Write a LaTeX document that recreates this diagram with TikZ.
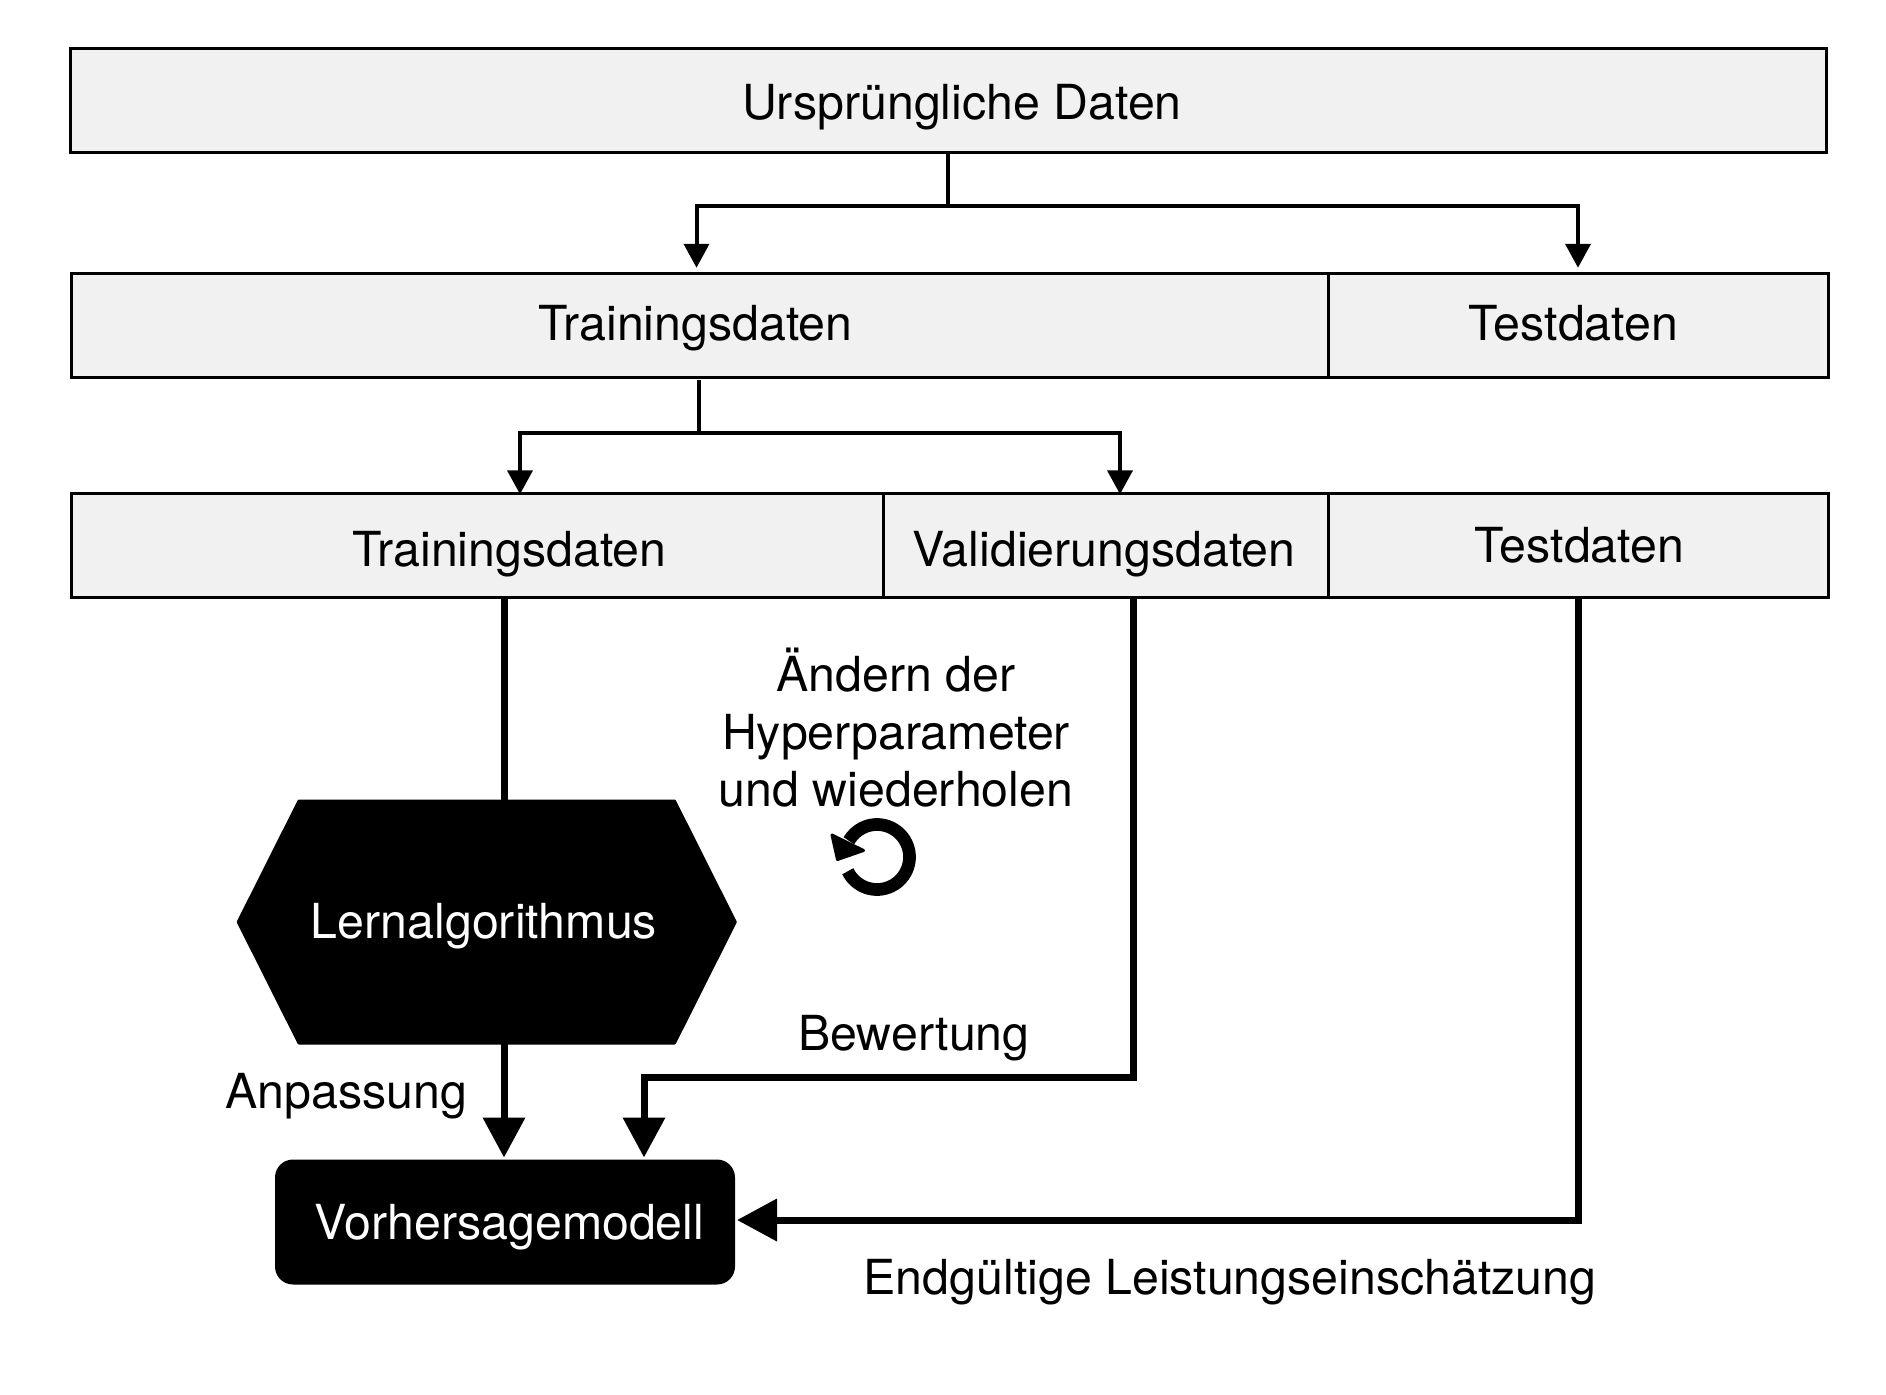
\documentclass[tikz,border=0pt]{standalone}
\usepackage{fontspec}
\setmainfont{TeX Gyre Heros}
\usetikzlibrary{arrows.meta,shapes.symbols,calc}
\definecolor{boxgray}{HTML}{F1F1F1}
\tikzset{
  databox/.style={draw=black,fill=boxgray,line width=3pt,outer sep=0pt,inner sep=0pt,line join=miter},
  lbl/.style={font=\fontsize{48.3}{57}\selectfont,anchor=base,inner sep=0pt,outer sep=0pt,text=black},
  lblw/.style={lbl,text=white},
  hexbox/.style={shape=signal,signal to=west and east,signal pointer angle=126.7,fill=black,draw=black,line width=3pt,line join=round,inner sep=0pt,outer sep=0pt,minimum width=497pt,minimum height=242pt},
  modelbox/.style={fill=black,rounded corners=18pt,inner sep=0pt,outer sep=0pt,minimum width=460pt,minimum height=125pt},
  thinline/.style={line width=4pt,draw=black,line join=miter},
  thinarrow/.style={thinline,-{Triangle[length=24pt,width=25pt]}},
  thickline/.style={line width=7pt,draw=black,line join=miter},
  thickarrow/.style={thickline,-{Triangle[length=40pt,width=41pt]}}
}
\begin{document}
\begin{tikzpicture}[x=1pt,y=-1pt]
\useasboundingbox (0,0) rectangle (1886,1394);
% data rows
\node[databox,minimum width=1756pt,minimum height=103pt] (orig) at (948,100.5) {};
\node[databox,minimum width=1256.5pt,minimum height=103.5pt] (trainA) at (700,325.5) {};
\node[databox,minimum width=500pt,minimum height=103.5pt] (testA) at (1578,325.5) {};
\node[databox,minimum width=811.5pt,minimum height=103.5pt] (trainB) at (477.5,545.5) {};
\node[databox,minimum width=445pt,minimum height=103.5pt] (validB) at (1105.5,545.5) {};
\node[databox,minimum width=500pt,minimum height=103.5pt] (testB) at (1578,545.5) {};
% black shapes
\node[hexbox] (hex) at (486.75,922) {};
\node[modelbox] (model) at (505,1222) {};
% labels
\node[lbl] (tOrig) at (962,120) {Ursprüngliche Daten};
\node[lbl] (tTrainA) at (695.5,340) {Trainingsdaten};
\node[lbl] (tTestA) at (1573.5,340) {Testdaten};
\node[lbl] (tTrainB) at (509.5,566.5) {Trainingsdaten};
\node[lbl] (tValidB) at (1104,566.5) {Validierungsdaten};
\node[lbl] (tTestB) at (1579.5,562) {Testdaten};
\node[lbl] (tAend1) at (896,691.5) {Ändern der};
\node[lbl] (tAend2) at (896,749) {Hyperparameter};
\node[lbl] (tAend3) at (896,806.5) {und wiederholen};
\node[lblw] (tHex) at (484,938) {Lernalgorithmus};
\node[lblw] (tModel) at (509.5,1239) {Vorhersagemodell};
\node[lbl] (tAnp) at (346,1108) {Anpassung};
\node[lbl] (tBew) at (914,1050) {Bewertung};
\node[lbl] (tEnd) at (1230,1294) {Endgültige Leistungseinschätzung};
% split connectors
\coordinate (j1) at (orig.south |- 0,206);
\draw[thinline] (orig.south) -- (j1);
\draw[thinarrow] (j1) -| ([xshift=-3.5pt,yshift=6pt]trainA.north);
\draw[thinarrow] (j1) -| ([yshift=6pt]testA.north);
\coordinate (j2) at (698.5,433);
\draw[thinline] ([xshift=-1.5pt,yshift=-3pt]trainA.south) -- (j2);
\draw[thinarrow] (j2) -| ([xshift=42.5pt,yshift=-0.5pt]trainB.north);
\draw[thinarrow] (j2) -| ([xshift=14.5pt,yshift=-0.5pt]validB.north);
% flow connectors
\draw[thickline] ([xshift=26.5pt]trainB.south) -- ([xshift=17.25pt]hex.north);
\draw[thickarrow] ([xshift=17.25pt]hex.south) -- ([xshift=-1pt,yshift=2pt]model.north);
\coordinate (j3) at (644,1077);
\draw[thickarrow] ([xshift=27.5pt]validB.south) |- (j3) -- ([xshift=139pt,yshift=2pt]model.north);
\draw[thickarrow] (testB.south) |- ([xshift=2pt,yshift=2pt]model.east);
% repeat icon
\coordinate (rc) at (877,857);
\draw[line width=12.7pt,line cap=butt] ([shift={(154:32.5)}]rc) arc[start angle=154,end angle=-150,radius=32.5];
\fill[draw=black,line width=3pt,line join=round] (832,835) -- (837.5,859.5) -- (863.5,850.5) -- cycle;
\end{tikzpicture}
\end{document}
